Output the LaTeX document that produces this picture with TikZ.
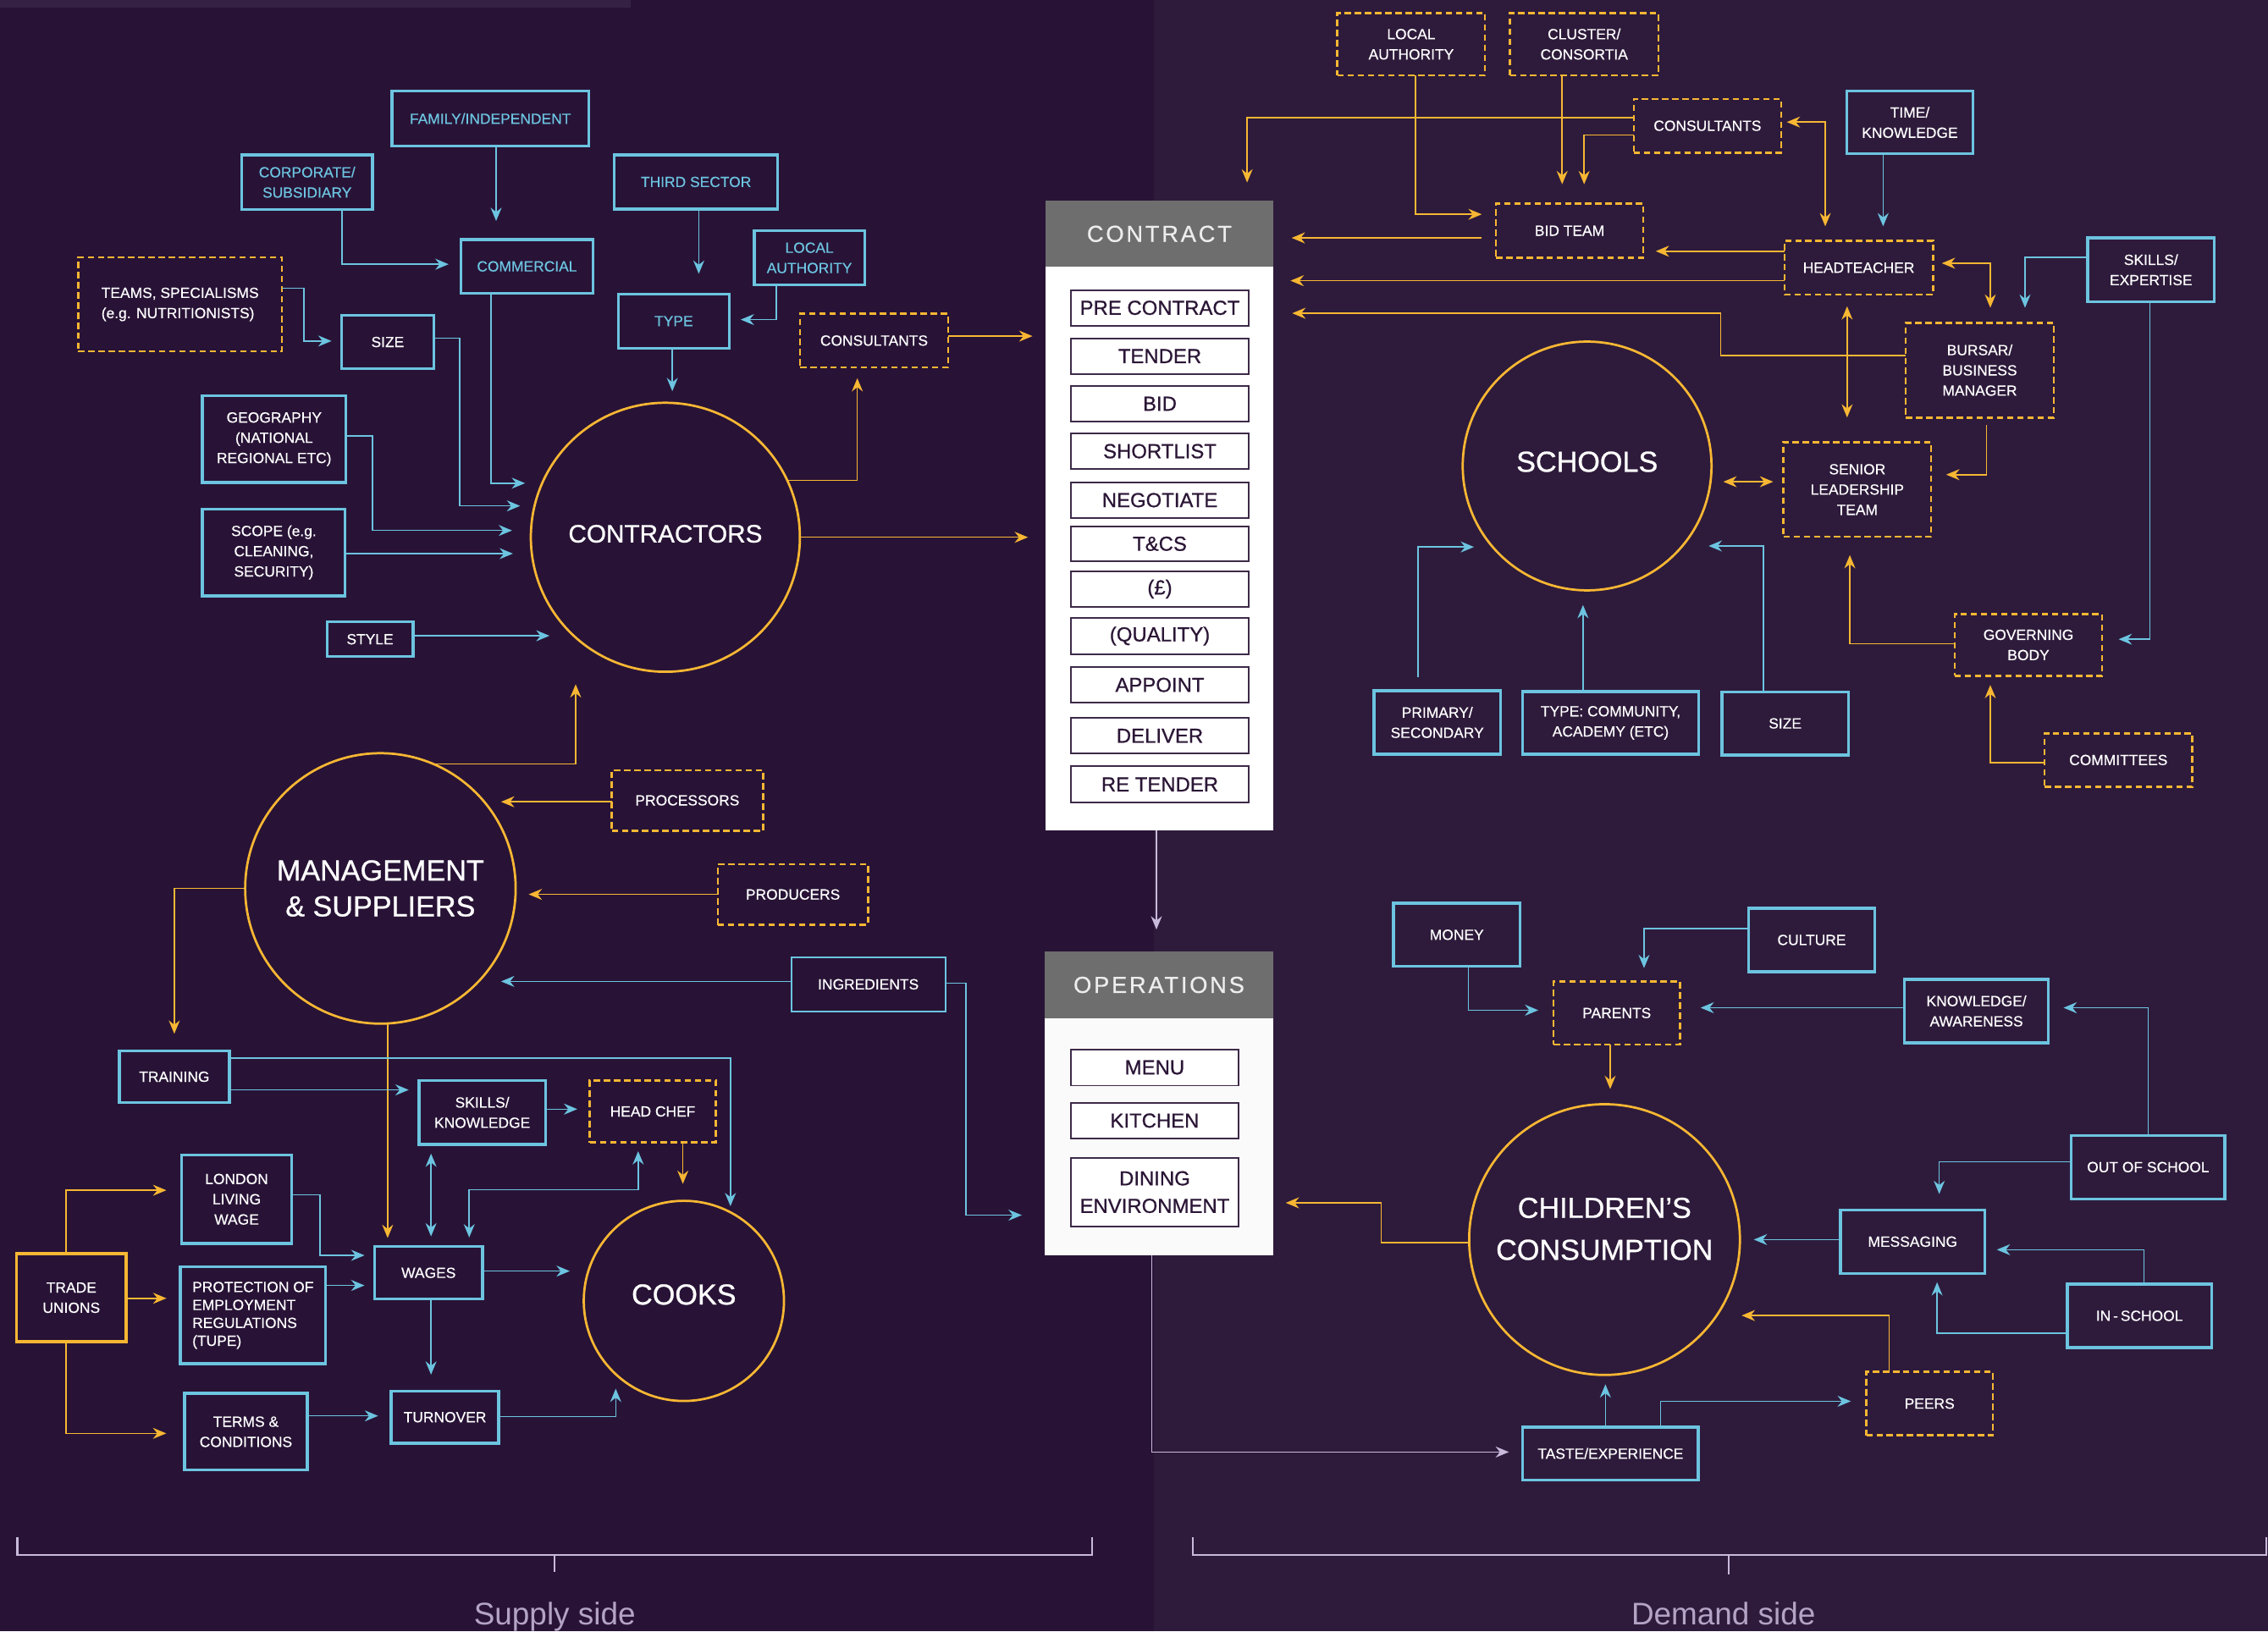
\documentclass[tikz,border=0pt]{standalone}
\usepackage{fontspec}
\setmainfont{Liberation Sans}
\newfontfamily\hfont[LetterSpace=10,FakeBold=0.6]{Liberation Sans}
\newfontfamily\medfont[FakeBold=0.8]{Liberation Sans}
\newfontfamily\lblfont[FakeBold=0.4]{Liberation Sans}
\usetikzlibrary{arrows.meta}
\definecolor{bgL}{HTML}{281336}
\definecolor{bgR}{HTML}{2E1B3B}
\definecolor{bgT}{HTML}{342143}
\definecolor{cblue}{HTML}{6CC4E0}
\definecolor{cyel}{HTML}{F8B733}
\definecolor{cgray}{HTML}{6E6E6E}
\definecolor{clav}{HTML}{C9B9DB}
\definecolor{ctext}{HTML}{2B1636}
\definecolor{citem}{HTML}{3D2A48}
\definecolor{cside}{HTML}{B4A3C5}
\definecolor{opsw}{HTML}{FAFAFA}
\begin{document}
\begin{tikzpicture}[x=0.5pt,y=-0.5pt,
  >={Stealth[length=4.6pt,width=3.8pt,inset=1.5pt]},
  every node/.style={font=\lblfont\fontsize{5.1}{7}\selectfont, text=white, inner sep=0pt, outer sep=0pt},
  bb/.style 2 args={draw=cblue, line width=1pt, minimum width=#1*0.5pt, minimum height=#2*0.5pt, align=center},
  yb/.style 2 args={draw=cyel, line width=0.75pt, dash pattern=on 2.2pt off 1.3pt, minimum width=#1*0.5pt, minimum height=#2*0.5pt, align=center},
  circ/.style={circle, draw=cyel, line width=0.8pt, minimum size=#1*0.5pt, align=center, font=\medfont\fontsize{10}{12.4}\selectfont},
  ci/.style={draw=citem, line width=0.55pt, fill=white, text=ctext, font=\medfont\fontsize{7}{9.5}\selectfont, minimum width=123.3*0.5pt, minimum height=#1*0.5pt, align=center},
  hdr/.style={fill=cgray, minimum width=157*0.5pt, minimum height=#1*0.5pt, font=\hfont\fontsize{8}{10}\selectfont, text=white!93!black},
  bl/.style={draw=cblue, line width=0.45pt, ->},
  yl/.style={draw=cyel, line width=0.45pt, ->},
  lv/.style={draw=clav, line width=0.5pt, ->},
  brk/.style={draw=clav, line width=0.6pt}
]
\clip (0,0) rectangle (1568,1128);
% background
\fill[bgL] (0,0) rectangle (798,1128);
\fill[bgR] (798,0) rectangle (1568,1128);
\fill[bgT] (0,0) rectangle (436,5);

% ===== SUPPLY SIDE NODES =====
\node[bb={136}{38}, text=cblue] (fam) at (339,82) {FAMILY/INDEPENDENT};
\node[bb={90.6}{38}, text=cblue] (corp) at (212.3,126) {CORPORATE/\\SUBSIDIARY};
\node[bb={91.5}{37}, text=cblue] (com) at (364.3,184.2) {COMMERCIAL};
\node[yb={141}{65}, align=left] (teams) at (124.5,210.5) {TEAMS, SPECIALISMS\\(e.g. NUTRITIONISTS)};
\node[bb={64}{37}] (size) at (268,236.5) {SIZE};
\node[bb={99}{60}] (geo) at (189.5,303.7) {GEOGRAPHY\\(NATIONAL\\REGIONAL ETC)};
\node[bb={98.6}{60}] (scope) at (189.3,382) {SCOPE (e.g.\\CLEANING,\\SECURITY)};
\node[bb={59.5}{24}] (style) at (255.8,442) {STYLE};
\node[bb={113}{37.6}, text=cblue] (third) at (481.2,125.8) {THIRD SECTOR};
\node[bb={76.4}{37.4}, text=cblue] (la1) at (559.6,178.3) {LOCAL\\AUTHORITY};
\node[bb={76.6}{37.4}, text=cblue] (type) at (465.8,222) {TYPE};
\node[yb={102.3}{37}] (cons1) at (604.3,235.5) {CONSULTANTS};
\node[circ=186, text depth=2.5pt, font=\medfont\fontsize{8.7}{10}\selectfont] (contr) at (460,371.5) {CONTRACTORS};
\node[circ=187] (mgmt) at (263,614.3) {MANAGEMENT\\\& SUPPLIERS};
\node[yb={104.6}{41.8}] (proc) at (475.2,553.4) {PROCESSORS};
\node[yb={103.8}{41.9}] (prod) at (548.2,618.5) {PRODUCERS};
\node[bb={106.6}{37.1}, line width=0.6pt] (ingr) at (600.3,680.6) {INGREDIENTS};
\node[bb={76}{36}] (train) at (120.5,744.5) {TRAINING};
\node[bb={87.5}{44.3}] (sk) at (333.4,769.2) {SKILLS/\\KNOWLEDGE};
\node[yb={87}{43}] (chef) at (451.3,768.5) {HEAD CHEF};
\node[bb={76.4}{61.2}] (llw) at (163.6,829.2) {LONDON\\LIVING\\WAGE};
\node[draw=cyel, line width=1pt, minimum width=75.9*0.5pt, minimum height=61*0.5pt, align=center] (tu) at (49.35,897.3) {TRADE\\UNIONS};
\node[bb={100.5}{67}, align=left, font=\lblfont\fontsize{5.1}{6.2}\selectfont] (prot) at (174.9,909.5) {PROTECTION OF\\EMPLOYMENT\\REGULATIONS\\(TUPE)};
\node[bb={74.4}{36.2}] (wages) at (296.3,880.1) {WAGES};
\node[bb={84.7}{53}] (terms) at (170,990) {TERMS \&\\CONDITIONS};
\node[bb={74.2}{36.2}] (turn) at (307.6,979.9) {TURNOVER};
\node[circ=138.4, text depth=4.5pt] (cooks) at (472.8,899.5) {COOKS};

% ===== CENTRE PANELS =====
\node[fill=white, minimum width=157*0.5pt, minimum height=435*0.5pt] (contract) at (801.5,356.5) {};
\node[hdr=45.4] (conhead) at (801.5,161.7) {CONTRACT};
\node[ci=24.5] (c1) at (801.85,212.85) {PRE CONTRACT};
\node[ci=24.7] (c2) at (801.85,246.25) {TENDER};
\node[ci=24.5] (c3) at (801.85,279.15) {BID};
\node[ci=24.8] (c4) at (801.85,312) {SHORTLIST};
\node[ci=24.5] (c5) at (801.85,345.85) {NEGOTIATE};
\node[ci=24.1] (c6) at (801.85,376) {T\&CS};
\node[ci=24.3] (c7) at (801.85,407.35) {(£)};
\node[ci=24.7] (c8) at (801.85,439.85) {(QUALITY)};
\node[ci=24.8] (c9) at (801.85,473.6) {APPOINT};
\node[ci=24.7] (c10) at (801.85,508.75) {DELIVER};
\node[ci=25] (c11) at (801.85,542.4) {RE TENDER};

\node[fill=opsw, minimum width=157.5*0.5pt, minimum height=210*0.5pt] (ops) at (801.25,763) {};
\node[hdr=46, minimum width=157.5*0.5pt] (opshead) at (801.25,681) {OPERATIONS};
\node[ci=25, minimum width=116.2*0.5pt] (o1) at (798.3,738.1) {MENU};
\node[ci=24.7, minimum width=116.2*0.5pt] (o2) at (798.3,774.85) {KITCHEN};
\node[ci=47.6, minimum width=116.2*0.5pt] (o3) at (798.3,824.3) {DINING\\ENVIRONMENT};

% ===== DEMAND SIDE NODES =====
\node[yb={102.1}{43.2}] (la2) at (975.65,30.6) {LOCAL\\AUTHORITY};
\node[yb={102.6}{43}] (clus) at (1095.2,30.5) {CLUSTER/\\CONSORTIA};
\node[yb={101.9}{37.1}] (cons2) at (1180.45,86.95) {CONSULTANTS};
\node[bb={87.2}{43.3}] (time) at (1320.4,84.65) {TIME/\\KNOWLEDGE};
\node[yb={101.7}{37.6}] (bidteam) at (1085.15,159.5) {BID TEAM};
\node[yb={102.7}{37.4}] (head) at (1285.05,185.1) {HEADTEACHER};
\node[bb={87.4}{44.1}] (skills) at (1487.1,186.55) {SKILLS/\\EXPERTISE};
\node[yb={102.2}{65.5}] (bursar) at (1368.7,255.95) {BURSAR/\\BUSINESS\\MANAGER};
\node[yb={102.1}{65.5}] (slt) at (1284.05,338.45) {SENIOR\\LEADERSHIP\\TEAM};
\node[circ=172, text depth=3pt] (schools) at (1097.25,322.2) {SCHOOLS};
\node[yb={101.9}{42.7}] (gov) at (1402.35,445.95) {GOVERNING\\BODY};
\node[yb={102.1}{37}] (comm) at (1464.55,525.5) {COMMITTEES};
\node[bb={87.3}{43.7}] (prim) at (993.65,499.55) {PRIMARY/\\SECONDARY};
\node[bb={121.8}{43.2}] (typec) at (1113.5,499.8) {TYPE: COMMUNITY,\\ACADEMY (ETC)};
\node[bb={87.5}{43.6}] (size2) at (1234.15,500.2) {SIZE};
\node[bb={87.3}{43.7}] (money) at (1007.15,646.35) {MONEY};
\node[bb={87.2}{43.7}] (culture) at (1252.5,649.95) {CULTURE};
\node[yb={87.3}{43.7}] (parents) at (1117.75,700.45) {PARENTS};
\node[bb={99.6}{43.9}] (know) at (1366.4,699.05) {KNOWLEDGE/\\AWARENESS};
\node[bb={106.2}{44}] (oos) at (1485.1,807) {OUT OF SCHOOL};
\node[circ=187.2, text depth=7.5pt, font=\medfont\fontsize{10}{14.5}\selectfont] (child) at (1109.3,857.1) {CHILDREN’S\\CONSUMPTION};
\node[bb={99.6}{44.1}] (msg) at (1322.3,858.55) {MESSAGING};
\node[bb={99.8}{44}] (insch) at (1479.1,909.8) {IN\,-\,SCHOOL};
\node[yb={87.4}{44}] (peers) at (1334,970.5) {PEERS};
\node[bb={121.3}{36.6}] (taste) at (1113.45,1005) {TASTE/EXPERIENCE};

% ===== SUPPLY SIDE CONNECTORS =====
\draw[bl, shorten >=6.45pt] (343,0 |- fam.south) -- (343,0 |- com.north);
\draw[bl, shorten >=4.2pt] (236.3,0 |- corp.south) |- (com.west |- 0,182.7);
\draw[bl, shorten >=3.4pt] (teams.east |- 0,199.4) -- (210.1,199.4) |- (size.west |- 0,235.8);
\draw[bl, shorten >=3.7pt] (size.east |- 0,233.9) -- (317.8,233.9) |- (contr.west |- 0,349.8);
\draw[bl, shorten >=2pt] (339.6,0 |- com.south) |- (contr.west |- 0,334.1);
\draw[bl, shorten >=6.5pt] (geo.east |- 0,301.3) -- (257.6,301.3) |- (contr.west |- 0,366.8);
\draw[bl, shorten >=6.2pt] (scope.east |- 0,382.8) -- (contr.west |- 0,382.8);
\draw[bl, shorten >=-6.45pt] (style.east |- 0,439.6) -- (contr.west |- 0,439.6);
\draw[bl, shorten >=7pt] (483.1,0 |- third.south) -- (483.1,0 |- type.north);
\draw[bl, shorten >=4pt] (536.6,0 |- la1.south) |- (type.east |- 0,221);
\draw[bl, shorten >=4pt] (464.8,0 |- type.south) -- (464.8,0 |- contr.north);
\draw[yl, shorten >=3.75pt] (contr.25) -| (592.7,0 |- cons1.south);
\draw[yl, shorten >=4.6pt] (cons1.east |- 0,232.4) -- (contract.west |- 0,232.4);
\draw[yl, shorten >=6.15pt] (contr.east) -- (contract.west |- contr.east);
\draw[yl, shorten >=4.3pt] (mgmt.67.5) -| (398,0 |- contr.south);
\draw[yl, shorten >=-5.05pt] (proc.west |- 0,554.4) -- (mgmt.east |- 0,554.4);
\draw[yl, shorten >=4.5pt] (prod.west |- 0,618.4) -- (mgmt.east |- 0,618.4);
\draw[bl, shorten >=-5.05pt] (ingr.west |- 0,678.6) -- (mgmt.east |- 0,678.6);
\draw[bl, shorten >=8.05pt] (ingr.east |- 0,679.8) -- (667.8,679.8) |- (ops.west |- 0,840.2);
\draw[yl, shorten >=5.85pt] (mgmt.west) -| (train.north);
\draw[yl, shorten >=3pt] (268,0 |- mgmt.south) -- (268,0 |- wages.north);
\draw[bl, shorten >=-1.85pt] (train.east |- 0,731.5) -| (505,0 |- cooks.north);
\draw[bl, shorten >=3.55pt] (train.east |- 0,753.6) -- (sk.west |- 0,753.6);
\draw[bl, shorten >=4.35pt] (sk.east |- 0,766.9) -- (chef.west |- 0,766.9);
\draw[yl, shorten >=5.85pt] (472.1,0 |- chef.south) -- (472.1,0 |- cooks.north);
\draw[bl, <->, shorten <=3.15pt, shorten >=3.55pt] (298,0 |- sk.south) -- (298,0 |- wages.north);
\draw[bl, <->, shorten <=3pt, shorten >=3.2pt] (441.2,0 |- chef.south) -- (441.2,822.7) -- (324.4,822.7) -- (324.4,0 |- wages.north);
\draw[bl, shorten >=3.55pt] (llw.east |- 0,826.1) -- (221.1,826.1) |- (wages.west |- 0,868);
\draw[bl, shorten >=3.55pt] (prot.east |- 0,888.8) -- (wages.west |- 0,888.8);
\draw[bl, shorten >=4.85pt] (wages.east |- 0,878.9) -- (cooks.west |- 0,878.9);
\draw[bl, shorten >=5.65pt] (298,0 |- wages.south) -- (298,0 |- turn.north);
\draw[bl, shorten >=4.55pt] (terms.east |- 0,979) -- (turn.west |- 0,979);
\draw[bl, shorten >=-4.25pt] (turn.east |- 0,979.5) -| (425.7,0 |- cooks.south);
\draw[yl, shorten >=5.2pt] (45.7,0 |- tu.north) |- (llw.west |- 0,823);
\draw[yl, shorten >=4.8pt] (tu.east |- 0,897.7) -- (prot.west |- 0,897.7);
\draw[yl, shorten >=6.35pt] (45.7,0 |- tu.south) |- (terms.west |- 0,991.1);

% ===== CENTRE CONNECTORS =====
\draw[lv, shorten >=7.65pt] (799.5,0 |- contract.south) -- (799.5,0 |- ops.north);
\draw[lv, shorten >=4.8pt] (796.2,0 |- ops.south) |- (taste.west |- 0,1004);

% ===== DEMAND SIDE CONNECTORS =====
\draw[yl, shorten >=4.95pt] (978.5,0 |- la2.south) |- (bidteam.west |- 0,148.2);
\draw[yl, shorten >=6.65pt] (1080,0 |- clus.south) -- (1080,0 |- bidteam.north);
\draw[yl, shorten >=6.4pt] (cons2.west |- 0,81.3) -| (862.2,0 |- conhead.north);
\draw[yl, shorten >=6.65pt] (cons2.west |- 0,93.4) -| (1095.2,0 |- bidteam.north);
\draw[yl, <->, shorten <=1.95pt, shorten >=4.95pt] (cons2.east |- 0,84.4) -| (1261.9,0 |- head.north);
\draw[bl, shorten >=4.95pt] (1301.9,0 |- time.south) -- (1301.9,0 |- head.north);
\draw[yl, shorten <=4.95pt, shorten >=6.5pt] (bidteam.west |- 0,164.5) -- (contract.east |- 0,164.5);
\draw[yl, shorten >=4.35pt] (head.west |- 0,173.7) -- (bidteam.east |- 0,173.7);
\draw[yl, shorten >=6.1pt] (head.west |- 0,194.1) -- (contract.east |- 0,194.1);
\draw[yl, shorten >=6.7pt] (bursar.west |- 0,245.8) -- (1189.6,245.8) |- (contract.east |- 0,216.6);
\draw[yl, <->, shorten <=4pt, shorten >=8.5pt] (1277,0 |- head.south) -- (1277,0 |- slt.north);
\draw[yl, <->, shorten <=3.05pt, shorten >=5.2pt] (head.east |- 0,182) -| (1376,0 |- bursar.north);
\draw[bl, shorten >=5.2pt] (skills.west |- 0,177.8) -| (1400,0 |- bursar.north);
\draw[bl, shorten >=5.7pt] (1486.2,0 |- skills.south) |- (gov.east |- 0,442);
\draw[yl, shorten <=2.65pt, shorten >=5.2pt] (1373.4,0 |- bursar.south) |- (slt.east |- 0,328.2);
\draw[yl, <->, shorten <=4.1pt, shorten >=3.55pt] (schools.east |- 0,333.1) -- (slt.west |- 0,333.1);
\draw[bl, shorten >=-1pt] (1219.3,0 |- size2.north) |- (schools.east |- 0,377.5);
\draw[bl, shorten <=4.85pt, shorten >=-3.9pt] (980.2,0 |- prim.north) |- (schools.west |- 0,378.2);
\draw[bl, shorten >=5.05pt] (1094.4,0 |- typec.north) -- (1094.4,0 |- schools.south);
\draw[yl, shorten >=6.3pt] (gov.west |- 0,445) -| (1278.9,0 |- slt.south);
\draw[yl, shorten >=3.15pt] (comm.west |- 0,527.2) -| (1376,0 |- gov.south);
\draw[bl, shorten >=5.3pt] (1015.2,0 |- money.south) |- (parents.west |- 0,698.5);
\draw[bl, shorten >=4.6pt] (culture.west |- 0,642.2) -| (1136.6,0 |- parents.north);
\draw[bl, shorten >=7.15pt] (know.west |- 0,696.8) -- (parents.east |- 0,696.8);
\draw[bl, shorten >=5.2pt] (1485.2,0 |- oos.north) |- (know.east |- 0,696.8);
\draw[bl, shorten >=5.45pt] (oos.west |- 0,803.4) -| (1340.7,0 |- msg.north);
\draw[yl, shorten >=5.25pt] (1113.2,0 |- parents.south) -- (1113.2,0 |- child.north);
\draw[bl, shorten >=4.8pt] (msg.west |- 0,857.1) -- (child.east |- 0,857.1);
\draw[bl, shorten >=4.2pt] (1482.2,0 |- insch.north) |- (msg.east |- 0,864.1);
\draw[bl, shorten >=3pt] (insch.west |- 0,921.7) -| (1339.2,0 |- msg.south);
\draw[yl, shorten >=0.6pt] (1306,0 |- peers.north) |- (child.east |- 0,909.6);
\draw[bl, shorten >=3.25pt] (1109.9,0 |- taste.north) -- (1109.9,0 |- child.south);
\draw[bl, shorten >=5.35pt] (1148,0 |- taste.north) |- (peers.west |- 0,968.9);
\draw[yl, shorten >=4.45pt] (child.west |- 0,859.3) -- (954.9,859.3) |- (ops.east |- 0,831.7);

% ===== BRACKETS AND SIDE LABELS =====
\draw[brk] (12,1063) |- (755,1075) -- (755,1063);
\draw[brk] (383.5,1075) -- (383.5,1087);
\draw[brk] (824.7,1063) |- (1566.6,1075) -- (1566.6,1063);
\draw[brk] (1195.4,1075) -- (1195.4,1088.6);
\node[anchor=base, text=cside, font=\fontsize{10.8}{13}\selectfont] (supply) at (383.5,1123.7) {Supply side};
\node[anchor=base, text=cside, font=\fontsize{10.8}{13}\selectfont] (demand) at (1191.5,1123.7) {Demand side};
\end{tikzpicture}
\end{document}
